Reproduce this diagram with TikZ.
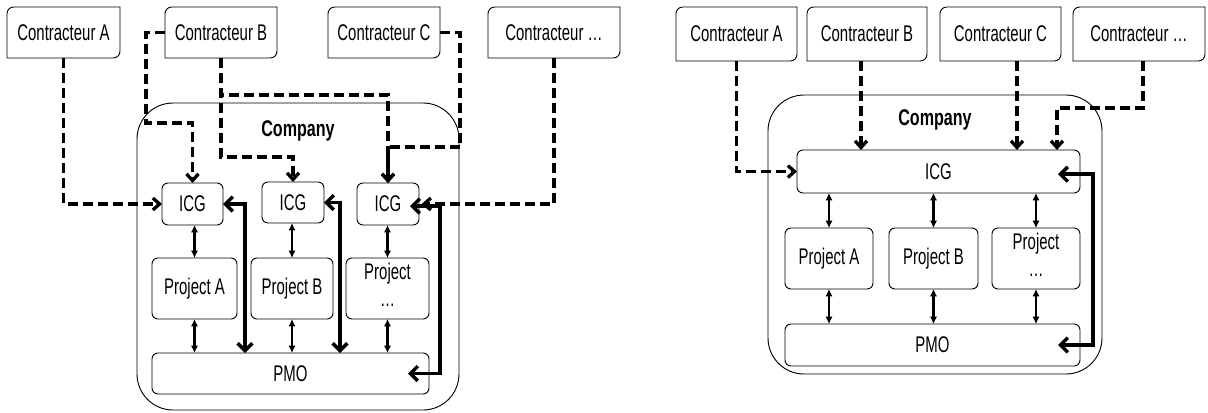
\documentclass[tikz,border=0pt]{standalone}
\usepackage{fontspec}
\setmainfont{Liberation Sans}
\newfontfamily\nf[FakeStretch=0.66]{Liberation Sans}
\newfontfamily\nfb[FakeStretch=0.71]{Liberation Sans}
\usetikzlibrary{arrows.meta,calc}
\newcommand\dframe[1]{\draw[line width=0.7pt] (#1.south west) -- ([yshift=-5pt]#1.north west) arc[start angle=180,end angle=90,radius=5pt] -- (#1.north east) -- ([yshift=5pt]#1.south east) arc[start angle=0,end angle=-90,radius=5pt] -- cycle;}
\newcommand\twoline{\begin{tabular}{@{}c@{}}Project\\[2pt]…\end{tabular}}
\begin{document}
\begin{tikzpicture}[x=0.75pt,y=0.75pt,
  every node/.style={font=\nf\fontsize{17}{18}\selectfont},
  bb/.style args={#1,#2,#3,#4}{at={({(#1+#3)/2},{-(#2+#4)/2})}, minimum width={(#3-#1)*0.75pt}, minimum height={(#4-#2)*0.75pt}},
  bx/.style={inner sep=0pt, outer sep=0pt, align=center},
  rbox/.style={bx, draw, line width=0.7pt, rounded corners=4.5pt},
  compbox/.style={bx, draw, line width=0.7pt, rounded corners=27pt},
  comptext/.style={font=\nfb\bfseries\fontsize{17}{18}\selectfont},
  dline/.style={line width=2.5pt, dash pattern=on 7.5pt off 3.75pt, -{Straight Barb[length=5pt,width=9pt]}},
  sline/.style={line width=2.6pt, {Straight Barb[length=5.5pt,width=11pt]}-{Straight Barb[length=5.5pt,width=11pt]}},
  dbl/.style={line width=1.7pt, {Latex[length=5.5pt,width=5.5pt]}-{Latex[length=5.5pt,width=5.5pt]}}
]
\useasboundingbox (0,0) rectangle (1208,-412);

% ---------------- left panel ----------------
\node[compbox, bb={137,103,459,410}] (comp) {};
\node[comptext] (comptxt) at (298,-131) {Company};

\node[bx, bb={7,7,120,58}] (cA) {Contracteur A};
\node[bx, bb={165,7,277,58}] (cB) {Contracteur B};
\node[bx, bb={328,7,440,58}] (cC) {Contracteur C};
\node[bx, bb={488,7,620,58}] (cD) {Contracteur …};
\dframe{cA}\dframe{cB}\dframe{cC}\dframe{cD}

\node[rbox, bb={162,183,223,225}] (icg1) {ICG};
\node[rbox, bb={262,182,324,223}] (icg2) {ICG};
\node[rbox, bb={357,183,419,225}] (icg3) {ICG};
\node[rbox, bb={152,258,237,319}] (pA) {Project A};
\node[rbox, bb={251,258,333,319}] (pB) {Project B};
\node[rbox, bb={346,258,429,319}] (pC) {\twoline};
\node[rbox, bb={152,353,429,394}] (pmo) {PMO};

\draw[dline] (cA.south) |- (icg1.west);
\draw[dline] (cB.west) -| (146,-123) -| (icg1.north);
\draw[dline] (cB.south) -- (221,-157) -| (icg2.north);
\draw[dline] (cB.south) -- (221,-95) -| (icg3.north);
\draw[dline] (cC.east) -| (460,-147) -| (icg3.north);
\draw[dline] (cD.south) |- ([xshift=2pt]icg3.east);

\draw[sline] (icg1.east) -| (245,0 |- pmo.north);
\draw[sline] (icg2.east) -| (340,0 |- pmo.north);
\draw[sline] ([xshift=-6.75pt,yshift=-1.5pt]icg3.east) -| (440,0 |- pmo.east) -- ([xshift=-15.75pt]pmo.east);

\draw[dbl] (pA.north |- icg1.south) -- (pA.north);
\draw[dbl] (pB.north |- icg2.south) -- (pB.north);
\draw[dbl] (pC.north |- icg3.south) -- (pC.north);
\draw[dbl] (pA.south) -- (pA.south |- pmo.north);
\draw[dbl] (pB.south) -- (pB.south |- pmo.north);
\draw[dbl] (pC.south) -- (pC.south |- pmo.north);

% ---------------- right panel ----------------
\node[compbox, bb={768,95,1102,374}] (rcomp) {};
\node[comptext] (rcomptxt) at (935,-120) {Company};

\node[bx, bb={676,7,797,61}] (rcA) {Contracteur A};
\node[bx, bb={807,7,927,61}] (rcB) {Contracteur B};
\node[bx, bb={940,7,1061,61}] (rcC) {Contracteur C};
\node[bx, bb={1073,7,1205,61}] (rcD) {Contracteur …};
\dframe{rcA}\dframe{rcB}\dframe{rcC}\dframe{rcD}

\node[rbox, bb={797,150,1080,193}] (ricg) {ICG};
\node[rbox, bb={785,228,873,289}] (rpA) {Project A};
\node[rbox, bb={889,228,978,289}] (rpB) {Project B};
\node[rbox, bb={992,228,1080,289}] (rpC) {\twoline};
\node[rbox, bb={785,324,1080,366}] (rpmo) {PMO};

\draw[dline] (rcA.south) |- (ricg.west);
\draw[dline] (rcB.south -| 861,0) -- (861,0 |- ricg.north);
\draw[dline] (rcC.south -| 1017,0) -- (1017,0 |- ricg.north);
\draw[dline] (rcD.south -| 1143,0) -- (1143,-108) -| (1057,0 |- ricg.north);

\draw[sline] ([xshift=-16.5pt,yshift=-2pt]ricg.east) -| (1093,0 |- rpmo.east) -- ([xshift=-16.5pt]rpmo.east);

\draw[dbl] (rpA.north |- ricg.south) -- (rpA.north);
\draw[dbl] (rpB.north |- ricg.south) -- (rpB.north);
\draw[dbl] (rpC.north |- ricg.south) -- (rpC.north);
\draw[dbl] (rpA.south) -- (rpA.south |- rpmo.north);
\draw[dbl] (rpB.south) -- (rpB.south |- rpmo.north);
\draw[dbl] (rpC.south) -- (rpC.south |- rpmo.north);
\end{tikzpicture}
\end{document}
